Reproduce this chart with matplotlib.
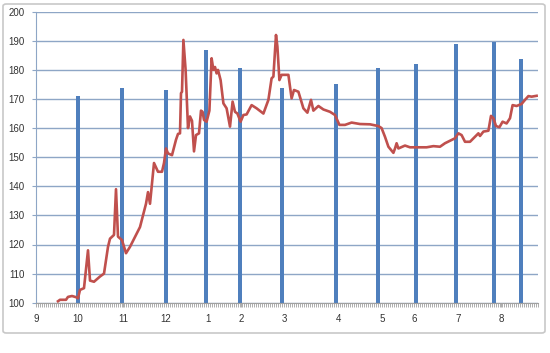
import numpy as np
import matplotlib
matplotlib.use("Agg")
from matplotlib import pyplot as plt
from matplotlib.patches import FancyBboxPatch

# data (x in trading-day index, about one year)
#############################################################
n_days = 251
month_labels = ["9", "10", "11", "12", "1", "2", "3", "4", "5", "6", "7", "8"]
month_pos = [0, 21, 43.5, 65, 86, 102.5, 124, 151, 173, 189, 211, 232.5]

bar_x = [21, 43, 65, 85, 102, 123, 150, 171, 190, 210, 229, 242.5]
bar_top = [171, 173.7, 173, 187, 180.5, 173.7, 175, 180.5, 182, 189, 189.5, 183.6]

price_x = [11, 12, 15, 16, 18, 20, 21, 22, 24, 26, 27, 29, 32, 34, 36, 37, 39, 40,
           41, 43, 45, 47, 52, 55, 56, 57, 59, 61, 63, 64, 65, 66, 68, 70, 71,
           72, 72.5, 73, 73.7, 74.8, 76, 77, 78, 79, 80, 81.5, 82.5, 83.3, 84,
           85.3, 86.7, 87.8, 88.7, 89.5, 90.3, 91, 92.3, 93.7, 95.3, 97, 98.3,
           99.5, 100.7, 102.3, 103.7, 105.3, 107.8, 110.3, 113.7, 116.2, 117.8,
           118.7, 120, 120.7, 121.7, 122.8, 126.2, 127.8, 129, 131.2, 133.7,
           135.7, 137.5, 138.7, 141.2, 143.7, 147, 149.5, 151.7, 154.5, 157.8,
           162, 167, 171.2, 172.8, 174.5, 176.2, 178.7, 179.5, 180.3, 181.2,
           184.5, 187, 192, 195.3, 198.7, 202, 204.5, 207.8, 209.5, 211.2,
           212.8, 214.5, 217, 219.5, 221.2, 222, 223.7, 226.2, 227.5, 228.7,
           230, 231.7, 233.3, 235.3, 237, 238.3, 240.3, 242.8, 244.5, 246.2,
           247.8, 250.3]
price_y = [100.5, 101, 101, 102, 102.3, 101.9, 101.5, 104.4, 105, 118, 107.6, 107.2,
           109, 110, 119.2, 122, 123.3, 139, 122.7, 121.5, 117, 119.2, 126, 134,
           138, 134, 148, 145, 145, 148, 153, 151.3, 150.7, 156, 158,
           158.2, 172, 172.5, 190.3, 180, 160, 164, 162.5, 152, 157.6, 158.2,
           166, 165.6, 162.8, 162.2, 166, 184, 180, 181, 178.8, 180, 176.5,
           168.5, 166.8, 160.5, 169.1, 165.6, 165, 162.2, 164.5, 164.7, 167.9,
           166.8, 165, 169.7, 177.1, 177.7, 192, 188, 176.5, 178.3, 178.3,
           170.2, 173.1, 172.5, 166.8, 165.3, 169.7, 166, 167.6, 166.4, 165.6,
           164.5, 161.1, 161.1, 161.9, 161.4, 161.3, 160.7, 160, 157, 153.6,
           151.5, 153, 154.8, 153, 154, 153.4, 153.4, 153.4, 153.8, 153.6,
           154.8, 155.9, 156.5, 158.2, 157.6, 155.3, 155.3, 157, 158.2, 157.3,
           158.8, 159.1, 164.2, 163.4, 160.7, 160.3, 162.2, 161.6, 163.4, 167.9,
           167.6, 168.3, 169.7, 171, 170.8, 171.1]
#############################################################

plt.rcParams['font.family'] = ['Liberation Sans', 'DejaVu Sans']

fig = plt.figure(figsize=(5.5, 3.53), dpi=100)
ax = fig.add_axes([36/550, 1-302.7/353, (538-36)/550, (302.7-11.7)/353])

# chart area border
fig.patches.append(FancyBboxPatch((3/550, 1-333/353), 542/550, 329/353,
                                  boxstyle="round,pad=0,rounding_size=0.006",
                                  transform=fig.transFigure, fill=False,
                                  edgecolor="#c8c8c8", linewidth=1.2))

ax.set_ylim(100, 200)
ax.set_xlim(0, n_days)
ax.set_yticks(np.arange(100, 201, 10))
ax.yaxis.grid(True, color="#8ea6c6", linewidth=1.0)
ax.set_axisbelow(True)

ax.bar(bar_x, np.array(bar_top) - 100, bottom=100, width=1.6,
       color="#4f7fbd", zorder=2)
ax.plot(price_x, price_y, color="#c0504d", linewidth=1.9, zorder=3)

ax.set_xticks(month_pos)
ax.set_xticklabels(month_labels)
ax.set_xticks(np.arange(0, n_days + 1), minor=True)
ax.tick_params(axis="x", which="both", direction="out", length=3,
               color="#a0a0a0", width=0.6, pad=5, labelsize=7,
               labelcolor="#333333")
ax.tick_params(axis="y", direction="out", length=3, color="#8ea6c6",
               width=0.8, pad=5, labelsize=7, labelcolor="#333333")

for s in ["top", "right"]:
    ax.spines[s].set_visible(False)
ax.spines["left"].set_color("#8ea6c6")
ax.spines["bottom"].set_color("#a0a0a0")

fig.savefig("out.png", dpi=100)
